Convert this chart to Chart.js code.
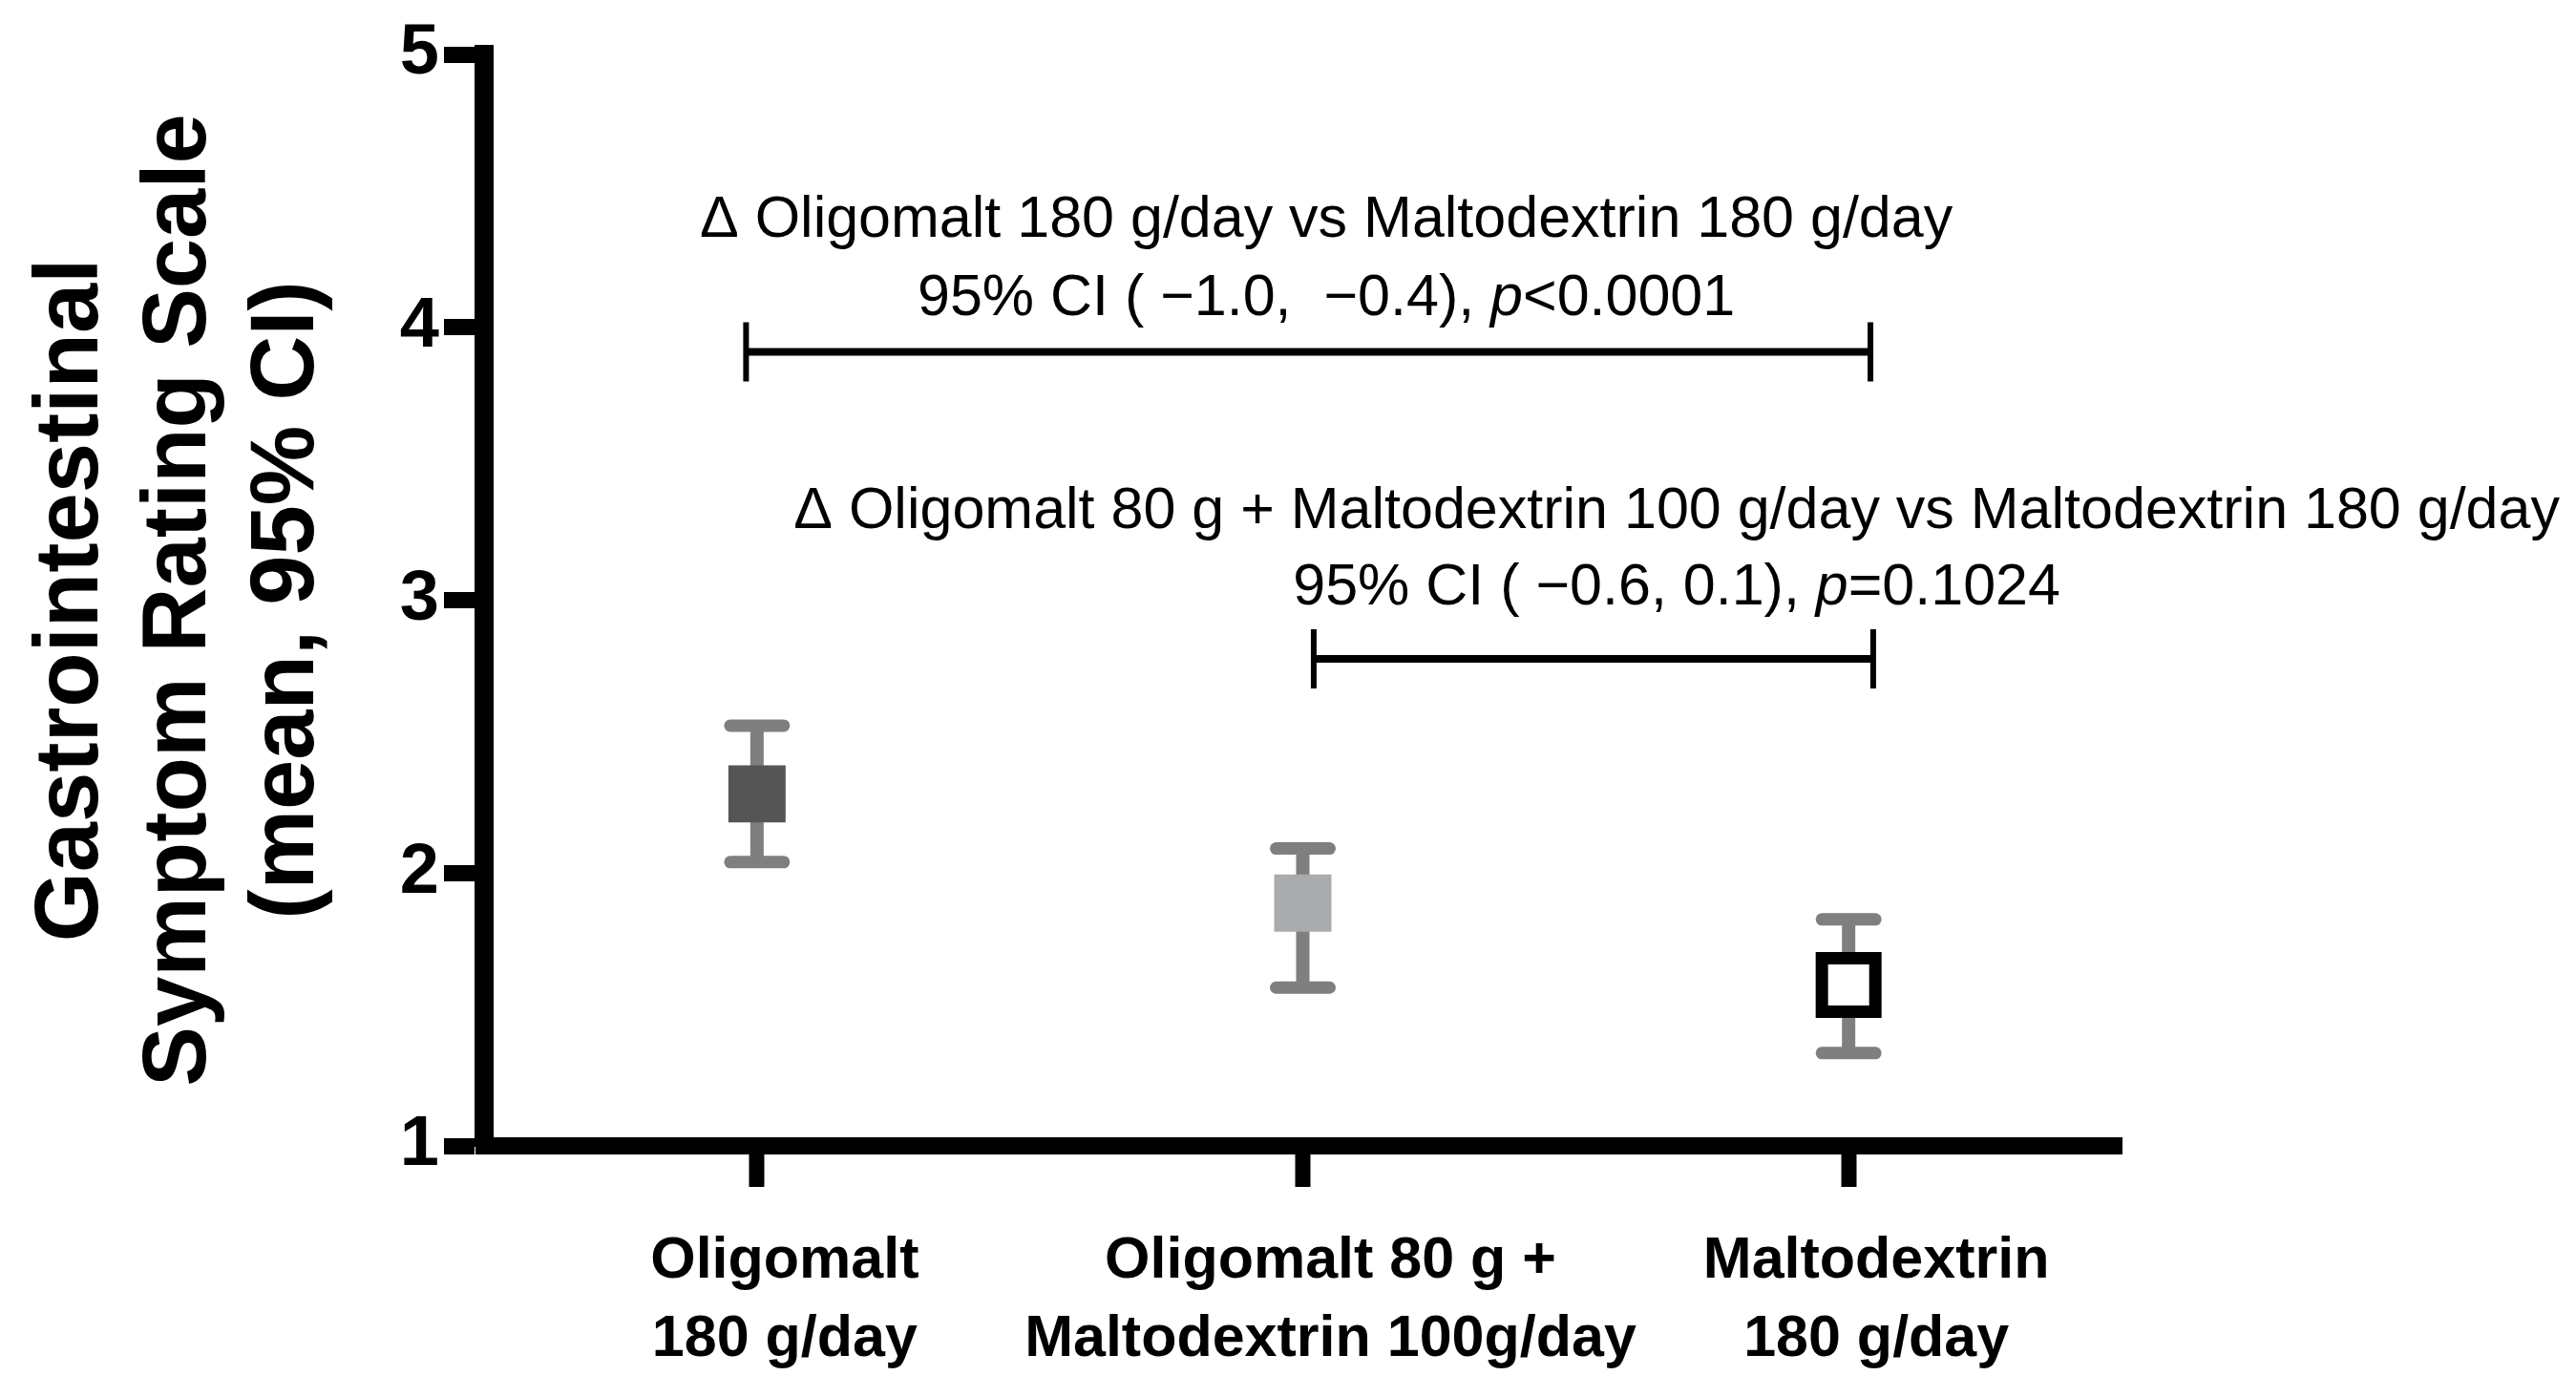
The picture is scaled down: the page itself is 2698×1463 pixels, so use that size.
<!DOCTYPE html>
<html lang="en">
<head>
<meta charset="UTF-8">
<title>Gastrointestinal Symptom Rating Scale</title>
<style>
  html, body { margin: 0; padding: 0; background: #fff; }
  #wrap { width: 2698px; height: 1463px; }
</style>
</head>
<body>
<div id="wrap"><canvas id="c" width="2698" height="1463"></canvas></div>
<script src="https://cdn.jsdelivr.net/npm/chart.js"></script>
<script>
"use strict";

// data
const groups = [["Oligomalt", "180 g/day"], ["Oligomalt 80 g +", "Maltodextrin 100g/day"], ["Maltodextrin", "180 g/day"]];
const means  = [2.29, 1.89, 1.59];
const ciLow  = [2.04, 1.58, 1.34];
const ciHigh = [2.54, 2.09, 1.83];
const yTicks = [1, 2, 3, 4, 5];

// comparison brackets (x in category units, y in scale units)
const cmpFrom = [-0.02, 1.02];
const cmpTo   = [2.04, 2.045];
const cmpY    = [3.91, 2.785];
const cmpText = [
  ["Δ Oligomalt 180 g/day vs Maltodextrin 180 g/day", "95% CI ( −1.0,  −0.4), *p*<0.0001"],
  ["Δ Oligomalt 80 g + Maltodextrin 100 g/day vs Maltodextrin 180 g/day", "95% CI ( −0.6, 0.1), *p*=0.1024"]
];
const cmpTextX = [1.043, 1.685];
const cmpTextY = [[4.332, 4.045], [3.264, 2.984]];

const FONT = '"Liberation Sans", Arial, sans-serif';
const barGray = "#7f7f7f";

function drawRich(ctx, str, cx, y, size) {
  const parts = str.split("*");
  const fonts = parts.map((p, i) => (i % 2 ? "italic " : "") + size + "px " + FONT);
  let total = 0;
  const widths = parts.map((p, i) => { ctx.font = fonts[i]; const w = ctx.measureText(p).width; total += w; return w; });
  let x = cx - total / 2;
  ctx.textAlign = "left";
  ctx.textBaseline = "alphabetic";
  ctx.fillStyle = "#000";
  parts.forEach((p, i) => { ctx.font = fonts[i]; ctx.fillText(p, x, y); x += widths[i]; });
}

const gsrsPlugin = {
  id: "gsrs",
  beforeDatasetsDraw(chart) {
    const ctx = chart.ctx, xs = chart.scales.x, ys = chart.scales.y;
    ctx.save();
    ctx.strokeStyle = barGray;
    means.forEach((m, i) => {
      const x = xs.getPixelForValue(i);
      const yl = ys.getPixelForValue(ciLow[i]);
      const yh = ys.getPixelForValue(ciHigh[i]);
      ctx.lineCap = "butt";
      ctx.lineWidth = 14;
      ctx.beginPath(); ctx.moveTo(x, yl); ctx.lineTo(x, yh); ctx.stroke();
      ctx.lineCap = "round";
      ctx.lineWidth = 13;
      [yl, yh].forEach(yy => {
        ctx.beginPath(); ctx.moveTo(x - 28, yy); ctx.lineTo(x + 28, yy); ctx.stroke();
      });
    });
    ctx.restore();
  },
  afterDatasetsDraw(chart) {
    const ctx = chart.ctx, xs = chart.scales.x, ys = chart.scales.y;
    ctx.save();
    ctx.strokeStyle = "#000";
    cmpY.forEach((v, k) => {
      const x1 = xs.getPixelForValue(cmpFrom[k]);
      const x2 = xs.getPixelForValue(cmpTo[k]);
      const y = ys.getPixelForValue(v);
      ctx.lineWidth = 8;
      ctx.beginPath(); ctx.moveTo(x1, y); ctx.lineTo(x2, y); ctx.stroke();
      ctx.lineWidth = 6;
      ctx.beginPath();
      ctx.moveTo(x1, y - 31); ctx.lineTo(x1, y + 31);
      ctx.moveTo(x2, y - 31); ctx.lineTo(x2, y + 31);
      ctx.stroke();
      const cx = xs.getPixelForValue(cmpTextX[k]);
      cmpText[k].forEach((line, j) => drawRich(ctx, line, cx, ys.getPixelForValue(cmpTextY[k][j]), 61));
    });
    ctx.restore();
  }
};

new Chart(document.getElementById("c"), {
  type: "line",
  data: {
    labels: groups,
    datasets: [{
      data: means,
      showLine: false,
      pointStyle: "rect",
      pointRadius: [42.4, 42.4, 39.6],
      pointHoverRadius: [42.4, 42.4, 39.6],
      pointBackgroundColor: ["#555555", "#aaabad", "#ffffff"],
      pointBorderColor: ["#555555", "#aaabad", "#000000"],
      pointBorderWidth: [0, 0, 13]
    }]
  },
  options: {
    responsive: false,
    animation: false,
    devicePixelRatio: 1,
    layout: { padding: { top: 57, right: 476, bottom: 0, left: 0 } },
    plugins: { legend: { display: false }, tooltip: { enabled: false } },
    scales: {
      x: {
        type: "category",
        offset: true,
        afterFit(s) { s.height = 263; },
        border: { display: true, width: 18, color: "#000" },
        grid: { display: true, offset: false, drawOnChartArea: false, drawTicks: true, tickLength: 43, tickWidth: 16, tickColor: "#000" },
        ticks: { color: "#000", padding: 38, labelOffset: 29, maxRotation: 0, autoSkip: false,
                 font: { family: FONT, size: 61, weight: "bold", lineHeight: 1.33 } }
      },
      y: {
        min: yTicks[0],
        max: yTicks[yTicks.length - 1],
        afterFit(s) { s.width = 507; },
        afterBuildTicks(s) { s.ticks = yTicks.map(v => ({ value: v })); },
        border: { display: true, width: 20, color: "#000" },
        grid: { display: true, drawOnChartArea: false, drawTicks: true, tickLength: 42, tickWidth: 17, tickColor: "#000" },
        ticks: { color: "#000", padding: 5, font: { family: FONT, size: 74, weight: "bold" } },
        title: {
          display: true,
          text: ["Gastrointestinal", "Symptom Rating Scale", "(mean, 95% CI)"],
          color: "#000",
          padding: { top: 20, bottom: 0 },
          font: { family: FONT, size: 94, weight: "bold", lineHeight: 1.2 }
        }
      }
    }
  },
  plugins: [gsrsPlugin]
});
</script>
</body>
</html>
